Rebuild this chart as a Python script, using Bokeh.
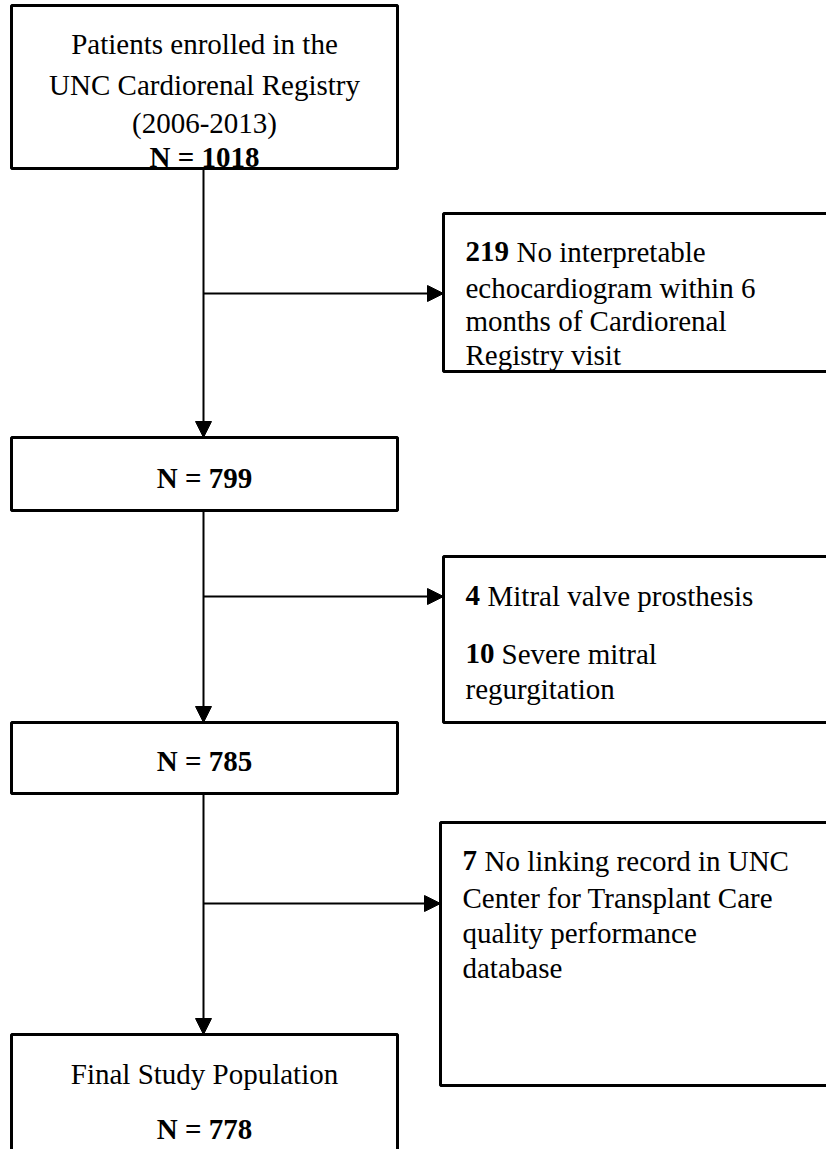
from bokeh.plotting import figure
from bokeh.models import Range1d, Arrow, NormalHead
from bokeh.core.properties import value
from bokeh.embed import file_html
from bokeh.resources import INLINE

# ---- data ----
stage_counts = [1018, 799, 785, 778]
exclusion_counts = [219, 4, 10, 7]
top_box_lines = ["Patients enrolled in the", "UNC Cardiorenal Registry", "(2006-2013)"]
final_label = "Final Study Population"
exclusion_lines = [
    ["No interpretable", "echocardiogram within 6", "months of Cardiorenal", "Registry visit"],
    ["Mitral valve prosthesis"],
    ["Severe mitral", "regurgitation"],
    ["No linking record in UNC", "Center for Transplant Care", "quality performance", "database"],
]

FONT = value("'Liberation Serif', 'Times New Roman', 'DejaVu Serif', serif")
FS = "29px"

p = figure(width=826, height=1149, output_backend="svg", toolbar_location=None,
           x_range=Range1d(0, 826), y_range=Range1d(1149, 0),
           min_border=0, min_border_left=0, min_border_right=0,
           min_border_top=0, min_border_bottom=0)
p.axis.visible = False
p.grid.visible = False
p.outline_line_color = None
p.background_fill_color = "white"
p.border_fill_color = "white"

# ---- boxes (left, right, top, bottom) ----
left_boxes = [(11, 397, 5, 168), (11, 397, 437, 510), (11, 397, 722, 793), (11, 397, 1034, 1170)]
right_boxes = [(443, 845, 213, 371), (443, 845, 556, 722), (440, 845, 822, 1085)]
for (l, r, t, b) in left_boxes + right_boxes:
    p.quad(left=[l], right=[r], top=[t], bottom=[b], fill_color="white",
           line_color="black", line_width=3)

# ---- connectors ----
cx = 203
head = dict(size=16, fill_color="black", line_color="black")
for (y0, y1) in [(168, 437), (510, 722), (793, 1034)]:
    p.add_layout(Arrow(end=NormalHead(**head), x_start=cx, y_start=y0, x_end=cx, y_end=y1,
                       line_color="black", line_width=2))
for (yy, xe) in [(293, 443), (596, 443), (903, 440)]:
    p.add_layout(Arrow(end=NormalHead(**head), x_start=cx, y_start=yy, x_end=xe, y_end=yy,
                       line_color="black", line_width=2))

def txt(x, y, s, bold=False, align="left"):
    p.text(x=[x], y=[y], text=[s], text_font=FONT, text_font_size=FS,
           text_font_style="bold" if bold else "normal", text_align=align,
           text_baseline="alphabetic", text_color="black")

# ---- left column text ----
ccx = 204
for yy, s in zip([43, 84, 122], top_box_lines):
    txt(ccx, yy, s, align="center")
txt(ccx, 156, f"N = {stage_counts[0]}", bold=True, align="center")
txt(ccx, 477, f"N = {stage_counts[1]}", bold=True, align="center")
txt(ccx, 760, f"N = {stage_counts[2]}", bold=True, align="center")
txt(ccx, 1073, final_label, align="center")
txt(ccx, 1128, f"N = {stage_counts[3]}", bold=True, align="center")

# ---- right column text ----
# box 1
txt(465, 251, str(exclusion_counts[0]), bold=True)
txt(516, 251, exclusion_lines[0][0])
for yy, s in zip([287, 320, 354], exclusion_lines[0][1:]):
    txt(465, yy, s)
# box 2
txt(465, 595, str(exclusion_counts[1]), bold=True)
txt(487, 595, exclusion_lines[1][0])
txt(465, 653, str(exclusion_counts[2]), bold=True)
txt(501, 653, exclusion_lines[2][0])
txt(465, 688, exclusion_lines[2][1])
# box 3
txt(462, 860, str(exclusion_counts[3]), bold=True)
txt(484, 860, exclusion_lines[3][0])
for yy, s in zip([897, 932, 967], exclusion_lines[3][1:]):
    txt(462, yy, s)

open("out.html", "w").write(file_html(p, INLINE))
